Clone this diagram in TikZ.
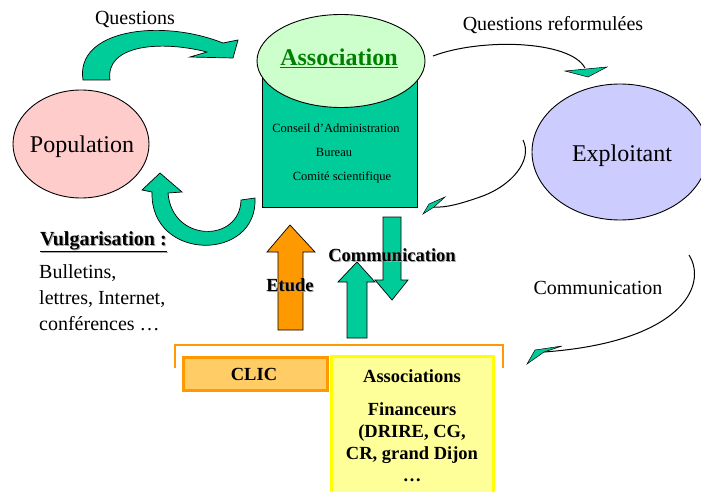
\documentclass[tikz,border=0pt]{standalone}
\usepackage{fontspec}
\setmainfont{Liberation Serif}
\usetikzlibrary{shapes.geometric}
\definecolor{tealg}{HTML}{00CC99}
\definecolor{pinkf}{HTML}{FFCCCC}
\definecolor{lavf}{HTML}{CCCCFF}
\definecolor{lgreen}{HTML}{CCFFCC}
\definecolor{orangeb}{HTML}{FF9900}
\definecolor{clicf}{HTML}{FFCC66}
\definecolor{yelf}{HTML}{FFFF99}
\definecolor{yelb}{HTML}{FFFF00}
\definecolor{dgreen}{HTML}{008000}
\begin{document}
\begin{tikzpicture}[x=1pt,y=-1pt,
  blob/.style={ellipse,draw=black,line width=0.9pt,inner sep=0pt},
  big/.style={font=\fontsize{24}{28}\selectfont,anchor=base,inner sep=0pt},
  mid/.style={font=\fontsize{20}{24}\selectfont,anchor=base,inner sep=0pt},
  small/.style={font=\fontsize{12.5}{15}\selectfont,anchor=base,inner sep=0pt},
  boldl/.style={font=\fontsize{18.5}{22}\selectfont\bfseries,anchor=base,inner sep=0pt},
  blockarrow/.style={draw=black,line width=0.7pt,fill=tealg},
  thin/.style={draw=black,line width=1pt},
  headfill/.style={draw=black,line width=0.5pt,fill=tealg}]
\useasboundingbox (0,0) rectangle (701,492);
\fill[white] (0,0) rectangle (701,492);

% Association block
\node[draw=black,line width=0.9pt,fill=tealg,minimum width=155pt,minimum height=145pt,anchor=north west,inner sep=0pt] (assocrect) at (262,62) {};
\node[blob,fill=lgreen,minimum width=168pt,minimum height=93pt] (assoc) at (341,61) {};
\node[big,font=\fontsize{24}{28}\selectfont\bfseries,text=dgreen] (assoct) at (339,66) {\underline{Association}};
\node[small] (ca) at (336,132) {Conseil d'Administration};
\node[small] (bur) at (334,157) {Bureau};
\node[small] (cs) at (342,180) {Comité scientifique};

% Population
\node[blob,fill=pinkf,minimum width=136pt,minimum height=108pt] (pop) at (81,144) {};
\node[big] (popt) at (82,153) {Population};

% Exploitant
\node[blob,fill=lavf,minimum width=176pt,minimum height=136pt] (expl) at (620,152) {};
\node[big] (explt) at (622,161) {Exploitant};

% Questions block arrow
\path[blockarrow] (83,80) .. controls (75,30) and (160,18) .. (223,43)
  -- (238,40) -- (233,58) -- (190,57) -- (207,52)
  .. controls (160,40) and (105,45) .. (110,80) -- cycle;
\node[mid] (q) at (135,25) {Questions};

% Vulgarisation block arrow
\path[blockarrow] (255,198) .. controls (258,262) and (150,262) .. (152,192)
  -- (142,190) -- (160,173) -- (182,192) -- (168,193)
  .. controls (172,243) and (240,243) .. (241,200) -- cycle;

% Questions reformulees
\coordinate (qr1) at (433,56);
\coordinate (qr2) at (585,68);
\draw[thin] (qr1) .. controls (480,38) and (570,40) .. (qr2);
\path[headfill] (565,71) -- (607,67) -- (588,77) -- cycle;
\node[mid] (qrt) at (553,31) {Questions reformulées};

% Exploitant -> Association
\coordinate (ea1) at (523,140);
\coordinate (ea2) at (433,207);
\draw[thin] (ea1) .. controls (533,160) and (512,186) .. (480,197) .. controls (460,204) and (445,208) .. (ea2);
\path[headfill] (423,214) -- (429,204) -- (445,197) -- (434,207) -- cycle;

% Communication right
\coordinate (cr1) at (689,255);
\coordinate (cr2) at (544,352);
\draw[thin] (cr1) .. controls (708,285) and (682,342) .. (cr2);
\path[headfill] (527,364) -- (535,350) -- (562,346) -- (544,352) -- cycle;
\node[mid] (crt) at (598,294) {Communication};

% Left texts
\node[font=\fontsize{20}{24}\selectfont\bfseries,anchor=base west,inner sep=0pt,text=black!35] at (41,246) {\underline{Vulgarisation :}};
\node[font=\fontsize{20}{24}\selectfont\bfseries,anchor=base west,inner sep=0pt] (vulg) at (40,245) {\underline{Vulgarisation :}};
\node[mid,anchor=base west] (l1) at (39,278) {Bulletins,};
\node[mid,anchor=base west] (l2) at (39,304) {lettres, Internet,};
\node[mid,anchor=base west] (l3) at (39,330) {conférences …};

% Middle block arrows
\path[draw=black,line width=0.7pt,fill=orangeb] (278,330) -- (278,252) -- (267,252) -- (290,225) -- (315,252) -- (303,252) -- (303,330) -- cycle;
\path[blockarrow] (347,338) -- (347,282) -- (338,282) -- (357,262) -- (375,282) -- (367,282) -- (367,338) -- cycle;
\path[blockarrow] (383,217) -- (401,217) -- (401,280) -- (408,280) -- (392,300) -- (375,280) -- (383,280) -- cycle;
\node[boldl,text=black!35] at (393,262) {Communication};
\node[boldl] (cm) at (392,261) {Communication};
\node[boldl,text=black!35] at (291,292) {Etude};
\node[boldl] (et) at (290,291) {Etude};

% Bottom bracket and boxes
\coordinate (br1) at (175,368);
\coordinate (br2) at (503,368);
\draw[orangeb,line width=2pt] (br1) |- (339,345) -| (br2);
\node[draw=orangeb,line width=2.5pt,fill=clicf,minimum width=144pt,minimum height=33pt,anchor=north west,inner sep=0pt] (clic) at (182,356) {};
\node[boldl] (clict) at (254,380) {CLIC};
\node[fill=yelf,minimum width=162pt,minimum height=136pt,anchor=north west,inner sep=0pt] (asso) at (331,356) {};
\draw[yelb,line width=3pt] (asso.south west) |- (asso.north east) -- (asso.south east);
\node[boldl] (a1) at (412,382) {Associations};
\node[boldl] (a2) at (412,415) {Financeurs};
\node[boldl] (a3) at (412,437) {(DRIRE, CG,};
\node[boldl] (a4) at (412,459) {CR, grand Dijon};
\node[boldl] (a5) at (412,481) {…};
\end{tikzpicture}
\end{document}
